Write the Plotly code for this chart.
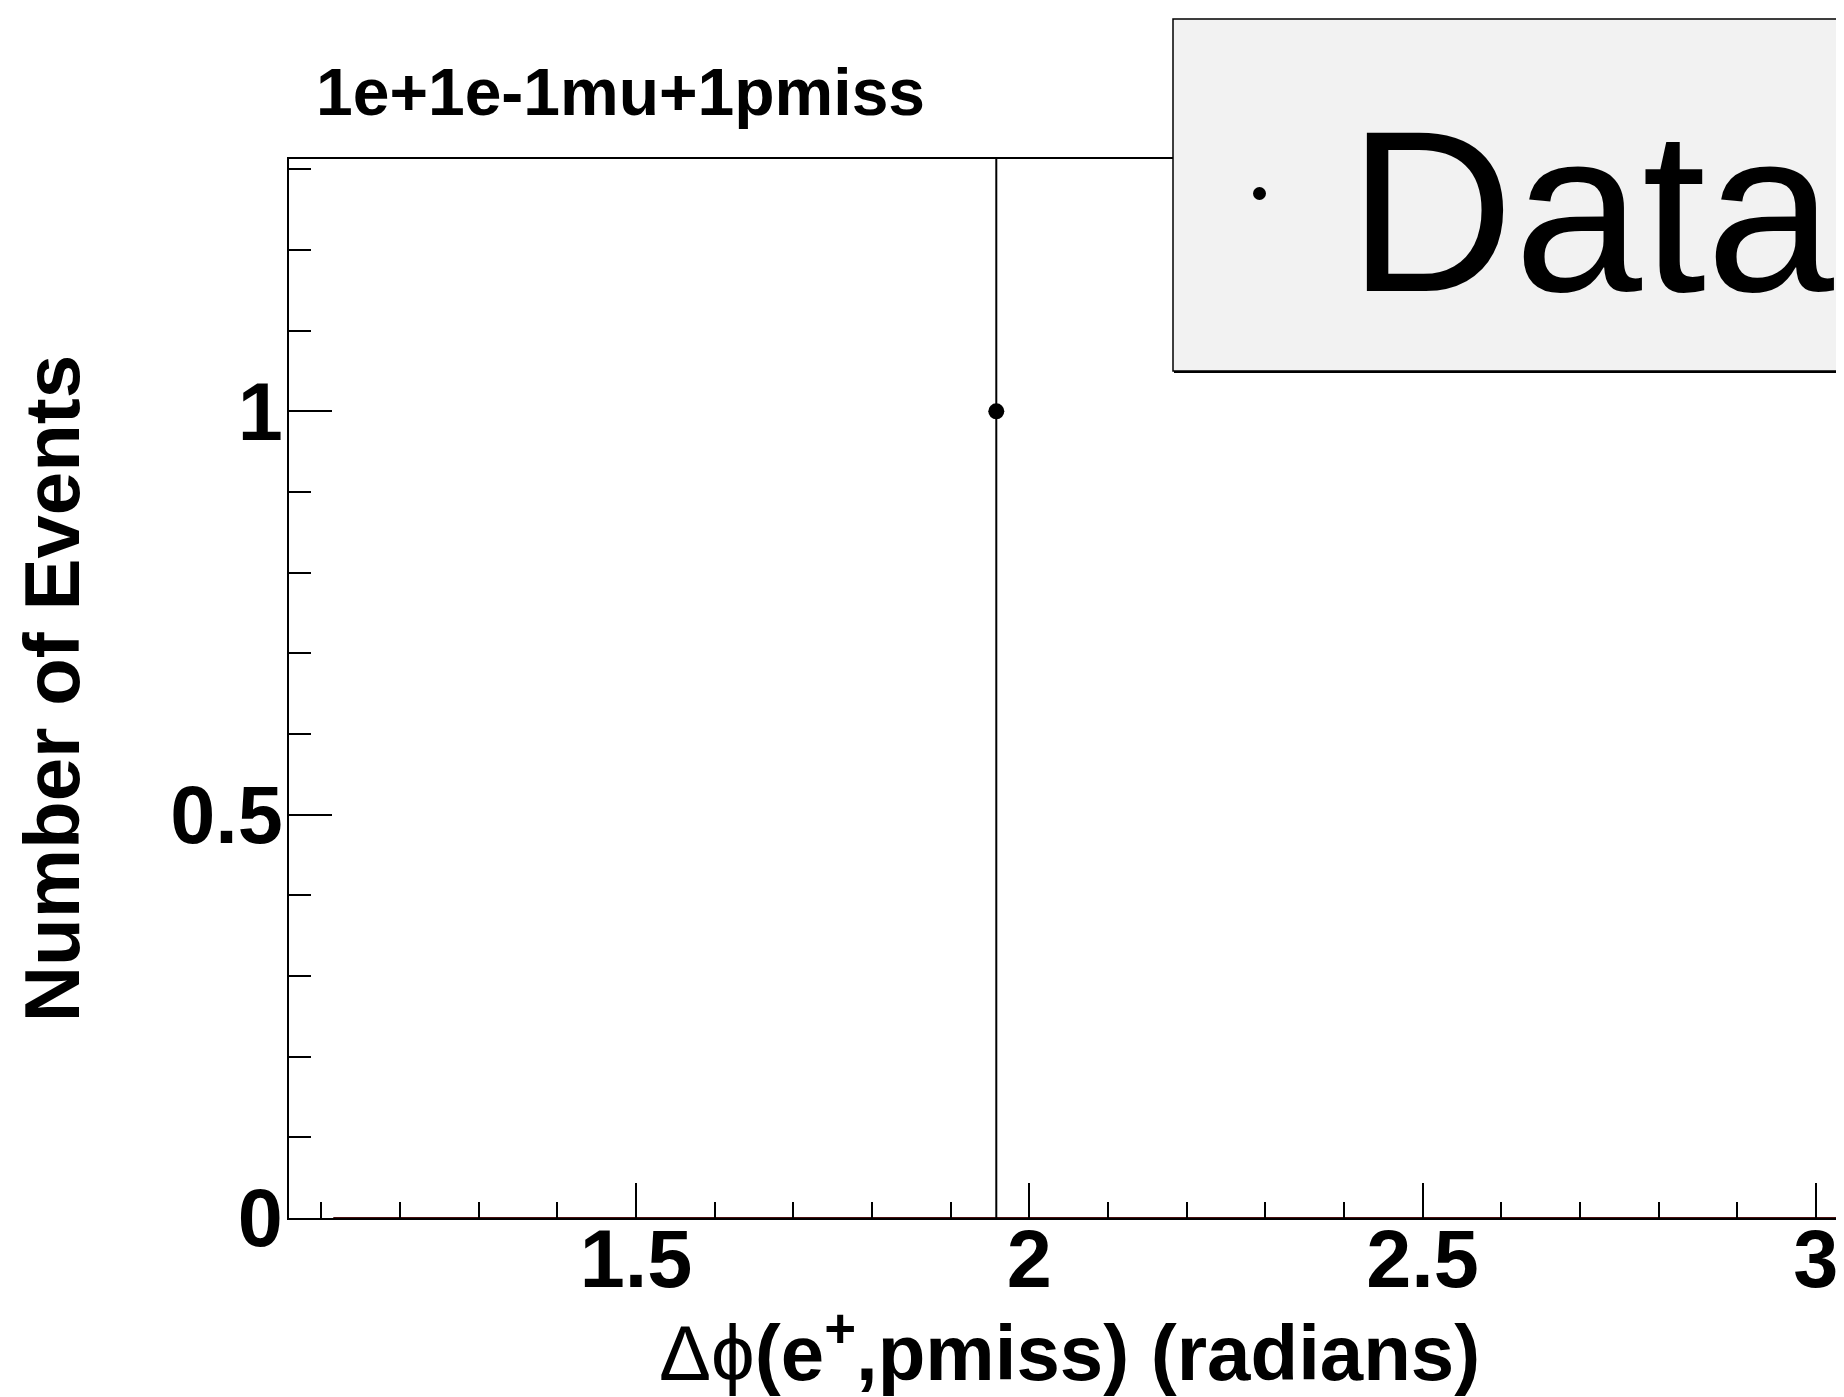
import plotly.graph_objects as go

# ---- data ----
data_x = [1.958]
data_y = [1]
data_err_up = [1]
data_err_down = [1]
bkg_x = [1.115, 3.046]
bkg_y = [0, 0]
x_range = [1.0587, 3.046]
y_range = [0, 1.3128]
title_text = "1e+1e-1mu+1pmiss"
x_title = "<span style='font-weight:normal'>Δϕ</span>(e<sup>+</sup>,pmiss) (radians)"
y_title = "Number of Events"
legend_label = "Data"

W, H = 1844, 1397
L, T, R, B = 281, 151, 0, 187
PW, PH = W - L - R, H - T - B

def px(x):
    return (x - L) / PW

def py(y):
    return (H - B - y) / PH

FONT = "Liberation Sans, Arial, sans-serif"

fig = go.Figure()

fig.add_trace(go.Scatter(
    x=bkg_x, y=bkg_y, mode="lines",
    line=dict(color="#4a0f0f", width=2),
    showlegend=False, hoverinfo="skip"))

fig.add_trace(go.Scatter(
    x=data_x, y=data_y, mode="markers",
    marker=dict(color="black", size=16),
    error_y=dict(type="data", array=data_err_up, arrayminus=data_err_down,
                 color="black", thickness=2, width=0),
    name=legend_label, showlegend=False))

fig.update_layout(
    width=W, height=H,
    margin=dict(l=L, r=R, t=T, b=B, autoexpand=False),
    paper_bgcolor="white", plot_bgcolor="white",
    font=dict(family=FONT, color="black"),
    xaxis=dict(
        range=x_range, showgrid=False, zeroline=False, automargin=False,
        showline=True, linecolor="black", linewidth=2, mirror=True,
        ticks="inside", ticklen=35, tickwidth=2, tickcolor="black",
        dtick=0.5, tick0=0, ticklabelstandoff=-30,
        minor=dict(dtick=0.1, ticks="inside", ticklen=16, tickwidth=2, tickcolor="black"),
        tickfont=dict(family=FONT, size=81, weight="bold"),
    ),
    yaxis=dict(
        range=y_range, showgrid=False, zeroline=False, automargin=False,
        showline=True, linecolor="black", linewidth=2, mirror=False,
        ticks="inside", ticklen=43, tickwidth=1.5, tickcolor="black",
        dtick=0.5, tick0=0, ticklabelstandoff=-12,
        minor=dict(dtick=0.1, ticks="inside", ticklen=22, tickwidth=1.5, tickcolor="black"),
        tickfont=dict(family=FONT, size=81, weight="bold"),
        title=dict(text=y_title,
                   font=dict(family=FONT, size=78, weight="bold"), standoff=72),
    ),
    shapes=[
        dict(type="rect", xref="paper", yref="paper",
             x0=px(1165), x1=px(1900), y0=py(363), y1=py(11),
             line=dict(color="black", width=1.5), fillcolor="#f2f2f2", layer="above"),
        dict(type="line", xref="paper", yref="paper",
             x0=px(1166), x1=px(1900), y0=py(364), y1=py(364),
             line=dict(color="black", width=2), layer="above"),
        dict(type="circle", xref="paper", yref="paper",
             x0=px(1245), x1=px(1258), y0=py(192), y1=py(179),
             line=dict(color="black", width=0), fillcolor="black", layer="above"),
    ],
    annotations=[
        dict(text=title_text, xref="paper", yref="paper", x=px(306), y=py(123),
             xanchor="left", yanchor="bottom", showarrow=False,
             font=dict(family=FONT, size=66, weight="bold")),
        dict(text=x_title, xref="paper", yref="paper", x=px(1061), y=py(1339),
             xanchor="center", yanchor="middle", showarrow=False,
             font=dict(family=FONT, size=78, weight="bold")),
        dict(text=legend_label, xref="paper", yref="paper", x=px(1338), y=py(203),
             xanchor="left", yanchor="middle", showarrow=False,
             font=dict(family=FONT, size=230)),
    ],
)

fig.write_html("out.html")
